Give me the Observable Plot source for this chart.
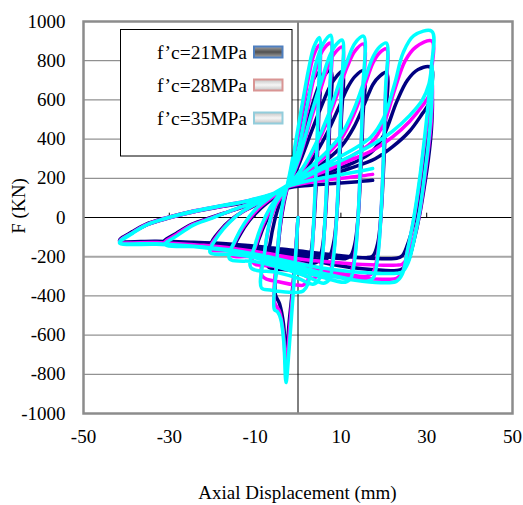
<!DOCTYPE html>
<html><head><meta charset="utf-8">
<script src="https://cdn.jsdelivr.net/npm/d3@7"></script>
<script src="https://cdn.jsdelivr.net/npm/@observablehq/plot@0.6"></script>
<style>
html,body{margin:0;padding:0;background:#fff;}
#chart{width:523px;height:505px;}
#chart svg text{font-family:'Liberation Serif','Times New Roman',serif;}
</style></head><body><div id="chart"></div>
<script>
const seriesNames = ["f’c=21MPa", "f’c=28MPa", "f’c=35MPa"];
const seriesColors = ["#000080", "#ff00ff", "#00ffff"];

// [axial displacement (mm), force (kN)]
const path21 = [
  [0,0],[-1,-300],[-2,-520],[-2.8,-700],[-3.4,-540],[-4.3,-440],[-5.3,-390],
  [-4.8,-200],[-4.1,-40],[-3.3,70],[-2.5,150],[-1,270],[1,470],[2.5,620],[3.7,710],[5,740],
  [4.8,500],[4.3,200],[3.7,-30],[3.1,-170],[2.3,-250],[1.2,-270],
  [0,-270],[-3.5,-265],[-7,-250],
  [-6.4,-120],[-5.5,-20],[-4.3,70],[-2.5,150],[0,300],[2,470],[4,620],[5.7,710],[7.6,750],
  [7.4,500],[6.9,200],[6.3,-20],[5.7,-150],[4.8,-220],[3.5,-235],
  [0,-215],[-5,-185],[-9.5,-168],
  [-8.6,-80],[-7.2,-10],[-5.5,60],[-4,110],[-2.5,150],[0,260],[3,430],[5.5,570],[7.5,670],[9,720],[10.3,745],
  [10.1,500],[9.6,220],[9,0],[8.3,-130],[7.3,-200],[6,-215],
  [2,-200],[-5,-175],[-10,-160],[-14.6,-152],
  [-13.3,-80],[-11.5,-20],[-9,40],[-6,95],[-2.5,150],[1,220],[4,320],[7,440],[9.5,560],[11.5,660],[13.3,720],[15.3,750],
  [15.1,500],[14.6,230],[14,0],[13.3,-130],[12.3,-195],[11,-210],
  [5,-195],[-3,-170],[-10,-150],[-15,-140],[-20.2,-135],
  [-18.3,-70],[-15.8,-15],[-12.8,30],[-8.8,75],[-5.5,115],[-2.5,150],[2,210],[6,280],[10,360],[13,460],[15.5,580],[17.5,680],[19,720],[20.6,740],
  [20.4,500],[19.9,230],[19.3,0],[18.6,-130],[17.5,-195],[16,-205],
  [8,-190],[0,-170],[-8,-150],[-15,-138],[-22,-130],[-31.3,-125],
  [-28.3,-80],[-24.8,-35],[-20.3,0],[-15,38],[-10,75],[-5,118],[-2.5,150],[3,200],[8,240],[13,280],[17,330],[20,420],[23,590],[25.5,700],[28,755],[31,765],
  [30.8,600],[30.1,420],[29.1,250],[28.2,100],[27,-30],[25.5,-140],[24.3,-195],[23,-208],[21,-210],
  [15,-205],[8,-190],[0,-170],[-8,-150],[-16,-135],[-25,-126],[-33,-121],[-41.6,-117],
  [-38.6,-72],[-35.6,-36],[-31,-3],[-25,30],[-18,58],[-12,82],[-6,116],[-2.5,150],[5,200],[12,250],[18,300],[22,360],[26,440],[29,530],[30.5,580],[31.3,632],
  [31.1,450],[30.4,300],[29.4,150],[28.4,20],[27,-120],[25.7,-220],[24.3,-262],[23,-270],
  [15,-262],[8,-240],[0,-200],[-8,-165],[-16,-140],[-25,-128],[-33,-121],[-41.6,-118],
  [-38.5,-75],[-35,-35],[-30,-2],[-24,30],[-17,58],[-11,83],[-6,112],[-2.5,150],[3,165],[9,175],[14,183],[17.4,190]
];

const path28 = [
  [0,0],[-1,-320],[-2,-580],[-2.8,-760],[-3.4,-590],[-4.3,-480],[-5.5,-430],
  [-5,-220],[-4.2,-45],[-3.4,75],[-2.5,155],[-1,310],[1,540],[2.5,720],[3.7,830],[5,880],
  [4.8,600],[4.3,260],[3.7,-20],[3.1,-220],[2.3,-320],[1.2,-345],
  [0,-345],[-4,-330],[-8.3,-300],
  [-7.6,-150],[-6.6,-30],[-5.1,65],[-2.5,155],[0,320],[2,530],[4,740],[5.7,850],[7.6,890],
  [7.4,620],[6.9,280],[6.3,-10],[5.7,-190],[4.8,-290],[3.5,-310],
  [0,-280],[-5,-250],[-10.5,-230],
  [-9.5,-120],[-8,-30],[-6,55],[-4.3,112],[-2.5,155],[0,280],[3,500],[5.5,670],[7.5,800],[9,850],[10.3,870],
  [10.1,620],[9.6,290],[9,0],[8.3,-180],[7.3,-285],[6,-305],
  [2,-270],[-5,-225],[-10,-200],[-15.5,-190],
  [-14,-95],[-12,-25],[-9.5,40],[-6.5,95],[-4.3,130],[-2.5,155],[1,240],[4,355],[7,500],[9.5,650],[11.5,770],[13.3,850],[15.3,885],
  [15.1,620],[14.6,290],[14,0],[13.3,-180],[12.3,-280],[11,-300],
  [5,-275],[-3,-225],[-10,-185],[-15,-170],[-20.4,-160],
  [-18.4,-80],[-15.9,-20],[-12.9,30],[-8.9,78],[-5.5,120],[-2.5,155],[2,230],[6,305],[10,400],[13,525],[15.5,670],[17.5,790],[19,840],[20.6,860],
  [20.4,620],[19.9,290],[19.3,0],[18.6,-180],[17.5,-280],[16,-300],
  [8,-275],[0,-230],[-8,-185],[-15,-158],[-22,-142],[-31.2,-131],
  [-28.2,-85],[-24.7,-38],[-20.2,-2],[-15,39],[-10,78],[-5,122],[-2.5,155],[3,215],[8,265],[13,320],[17,380],[20,480],[22.5,650],[25,800],[27.5,870],[31.2,900],
  [31,720],[30.3,520],[29.2,330],[28.3,170],[27,-10],[25.5,-170],[24.3,-280],[23,-310],[21,-315],
  [15,-310],[8,-285],[0,-240],[-8,-195],[-16,-163],[-25,-141],[-33,-130],[-41.6,-122],
  [-38.5,-76],[-35.5,-38],[-31,-4],[-25,30],[-18,59],[-12,84],[-6,118],[-2.5,155],[5,225],[12,290],[18,350],[22,410],[26,490],[29,570],[30.5,620],[31.3,700],
  [31.1,500],[30.4,350],[29.4,180],[28.4,30],[27,-110],[25.7,-200],[24.3,-238],[23,-243],
  [15,-240],[8,-228],[0,-210],[-8,-180],[-16,-155],[-25,-138],[-33,-128],[-41.6,-122],
  [-38.5,-76],[-35,-35],[-30,-1],[-24,31],[-17,60],[-11,86],[-6,115],[-2.5,155],[3,180],[9,198],[14,210],[17.4,220]
];

const path35 = [
  [0,0],[-1,-350],[-2,-650],[-2.8,-842],[-3.3,-640],[-4,-520],[-4.8,-480],[-5.5,-470],
  [-5,-250],[-4.3,-50],[-3.5,80],[-2.5,165],[-1,330],[1,580],[2.5,760],[3.7,870],[5,918],
  [4.8,650],[4.3,300],[3.7,0],[3.1,-220],[2.3,-340],[1.2,-375],
  [0,-382],[-4,-378],[-6.5,-370],[-8.5,-360],
  [-7.8,-180],[-6.8,-40],[-5.3,70],[-2.5,165],[0,340],[2,560],[4,770],[5.7,880],[7.6,930],
  [7.4,650],[6.9,300],[6.3,0],[5.7,-200],[4.8,-320],[3.5,-340],
  [0,-310],[-5,-280],[-11,-255],
  [-10,-140],[-8.5,-40],[-6.5,50],[-4.5,115],[-2.5,165],[0,290],[3,520],[5.5,700],[7.5,830],[9,885],[10.3,905],
  [10.1,650],[9.6,300],[9,0],[8.3,-200],[7.3,-315],[6,-335],
  [2,-300],[-5,-250],[-10,-225],[-16,-209],
  [-14.5,-110],[-12.5,-30],[-10,40],[-7,95],[-4.5,135],[-2.5,165],[1,250],[4,370],[7,520],[9.5,680],[11.5,800],[13.3,890],[15.3,925],
  [15.1,650],[14.6,300],[14,0],[13.3,-200],[12.3,-310],[11,-330],
  [5,-300],[-3,-250],[-10,-205],[-15,-188],[-20.5,-178],
  [-18.5,-90],[-16,-25],[-13,30],[-9,80],[-5.5,125],[-2.5,165],[2,240],[6,320],[10,420],[13,550],[15.5,700],[17.5,820],[19,870],[20.6,890],
  [20.4,650],[19.9,300],[19.3,0],[18.6,-200],[17.5,-310],[16,-325],
  [8,-295],[0,-250],[-8,-200],[-15,-170],[-22,-150],[-31,-138],
  [-28,-90],[-24.5,-40],[-20,-3],[-15,40],[-10,80],[-5,125],[-2.5,165],[3,230],[8,290],[13,350],[17,410],[20,510],[22.5,680],[24.5,840],[27,928],[31.2,950],
  [31,750],[30.2,550],[29.2,350],[28.3,190],[27,0],[25.5,-170],[24.3,-290],[23,-325],[21,-333],
  [15,-325],[8,-300],[0,-252],[-8,-205],[-16,-170],[-25,-148],[-33,-137],[-41.6,-130],
  [-38.5,-80],[-35.5,-40],[-31,-5],[-25,30],[-18,60],[-12,85],[-6,120],[-2.5,160],[5,240],[12,310],[18,380],[22,440],[26,520],[29,600],[30.5,680],[31.3,785],
  [31.1,560],[30.4,380],[29.4,200],[28.4,40],[27,-120],[25.7,-230],[24.3,-278],[23,-285],
  [15,-280],[8,-265],[0,-235],[-8,-195],[-16,-165],[-25,-145],[-33,-134],[-41.6,-126],
  [-38.5,-78],[-35,-35],[-30,0],[-24,32],[-17,62],[-11,88],[-6,118],[-2.5,158],[3,190],[9,215],[14,235],[17.4,250]
];

const yTicks = [-1000,-800,-600,-400,-200,0,200,400,600,800,1000];
const xTicks = [-50,-30,-10,10,30,50];
const zeroLineTicks = [-30,-10,10,30];
const xTitle = "Axial Displacement (mm)";
const yTitle = "F (KN)";

const rows = [];
[path21, path28, path35].forEach((p, i) => p.forEach(([x, y]) => rows.push({x, y, s: seriesNames[i]})));

const chart = Plot.plot({
  width: 523, height: 505,
  marginTop: 21, marginBottom: 92, marginLeft: 83, marginRight: 11,
  style: {fontFamily: "'Liberation Serif','Times New Roman',serif", fontSize: "19px", color: "#000", background: "#fff", overflow: "visible"},
  x: {domain: [-50, 50], ticks: xTicks, tickSize: 0, tickPadding: 16, tickFormat: d => String(d), label: null},
  y: {domain: [-1000, 1000], ticks: yTicks, tickSize: 0, tickPadding: 18, tickFormat: d => String(d), label: null},
  color: {domain: seriesNames, range: seriesColors},
  marks: [
    Plot.ruleY(yTicks.filter(v => v !== 0 && v !== -200 && Math.abs(v) !== 1000), {stroke: "#777", strokeWidth: 1}),
    Plot.ruleY([-200], {stroke: "#a6a6a6", strokeWidth: 2}),
    Plot.ruleY([0], {stroke: "#000", strokeWidth: 1}),
    Plot.ruleX([0], {stroke: "#000", strokeWidth: 1}),
    Plot.ruleX(zeroLineTicks, {y1: 0, y2: 22, stroke: "#000", strokeWidth: 1}),
    Plot.line(rows, {x: "x", y: "y", z: "s", stroke: "s", strokeWidth: 3.5, curve: "catmull-rom", strokeLinejoin: "round"}),
    Plot.frame({stroke: "#8c8c8c", strokeWidth: 2.5})
  ]
});

const svg = d3.select(chart);
const defs = svg.append("defs");
function grad(id, edge, mid) {
  const g = defs.append("linearGradient").attr("id", id).attr("x1", 0).attr("y1", 0).attr("x2", 0).attr("y2", 1);
  g.append("stop").attr("offset", "0%").attr("stop-color", edge);
  g.append("stop").attr("offset", "50%").attr("stop-color", mid);
  g.append("stop").attr("offset", "100%").attr("stop-color", edge);
}
grad("g21", "#a8a8a8", "#505050");
grad("g28", "#c4c4c4", "#f6f6f6");
grad("g35", "#c4c4c4", "#f6f6f6");

const legend = svg.append("g");
legend.append("rect").attr("x", 120.5).attr("y", 29.5).attr("width", 171.5).attr("height", 126.5)
  .attr("fill", "#fff").attr("stroke", "#000").attr("stroke-width", 1);
const swBorder = ["#4f7fbf", "#d99594", "#92cddc"];
const swFill = ["url(#g21)", "url(#g28)", "url(#g35)"];
const entryY = [52, 85, 118];
seriesNames.forEach((name, i) => {
  legend.append("text").attr("x", 247).attr("y", entryY[i]).attr("text-anchor", "end")
    .attr("dominant-baseline", "central").attr("font-size", 19.5).attr("fill", "#000").text(name);
  legend.append("rect").attr("x", 254).attr("y", entryY[i] - 5.5).attr("width", 28.5).attr("height", 11)
    .attr("fill", swFill[i]).attr("stroke", swBorder[i]).attr("stroke-width", 2);
});

svg.append("text").attr("x", 297.5).attr("y", 499).attr("text-anchor", "middle")
  .attr("font-size", 19).attr("fill", "#000").text(xTitle);
svg.append("text").attr("transform", "translate(25,206) rotate(-90)").attr("text-anchor", "middle")
  .attr("font-size", 19).attr("fill", "#000").text(yTitle);

document.getElementById("chart").appendChild(chart);
</script></body></html>
